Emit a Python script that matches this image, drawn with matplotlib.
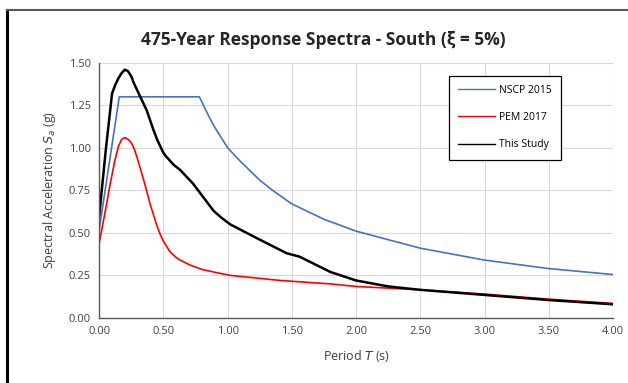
import matplotlib
matplotlib.use('Agg')
import matplotlib.pyplot as plt
from matplotlib.lines import Line2D

plt.rcParams['font.family'] = ['Open Sans', 'DejaVu Sans']
plt.rcParams['mathtext.fontset'] = 'dejavusans'

# NSCP 2015 design spectrum
t_nscp = [0.0, 0.156, 0.78, 0.85, 0.90, 0.95, 1.00, 1.10, 1.25, 1.35, 1.50, 1.75,
          2.00, 2.50, 3.00, 3.50, 4.00]
sa_nscp = [0.52, 1.30, 1.30, 1.19, 1.12, 1.06, 1.00, 0.92, 0.81, 0.75, 0.67, 0.58,
           0.51, 0.41, 0.34, 0.29, 0.255]

# PEM 2017
t_pem = [0.0, 0.05, 0.086, 0.12, 0.15, 0.175, 0.20, 0.225, 0.25, 0.275, 0.30, 0.35,
         0.40, 0.45, 0.475, 0.50, 0.55, 0.60, 0.63, 0.71, 0.80, 0.89, 1.02, 1.41,
         1.80, 2.00, 2.50, 3.00, 3.50, 4.00]
sa_pem = [0.44, 0.64, 0.79, 0.92, 1.01, 1.05, 1.06, 1.05, 1.03, 0.99, 0.93, 0.80,
          0.66, 0.54, 0.49, 0.45, 0.39, 0.355, 0.34, 0.31, 0.285, 0.27, 0.25, 0.22,
          0.20, 0.185, 0.165, 0.14, 0.11, 0.085]

# This study
t_study = [0.0, 0.05, 0.10, 0.125, 0.15, 0.175, 0.20, 0.225, 0.25, 0.27, 0.32, 0.37,
           0.42, 0.45, 0.475, 0.50, 0.52, 0.58, 0.63, 0.73, 0.80, 0.89, 0.95, 1.02,
           1.25, 1.46, 1.56, 1.80, 2.00, 2.25, 2.50, 3.00, 3.50, 4.00]
sa_study = [0.60, 0.98, 1.32, 1.37, 1.41, 1.44, 1.46, 1.45, 1.42, 1.38, 1.30, 1.22,
            1.11, 1.05, 1.01, 0.97, 0.95, 0.90, 0.87, 0.79, 0.72, 0.63, 0.59, 0.55,
            0.46, 0.38, 0.36, 0.27, 0.22, 0.185, 0.165, 0.135, 0.105, 0.08]

fig = plt.figure(figsize=(6.28, 3.83), dpi=100)
ax = fig.add_axes([0.158, 0.170, 0.818, 0.666])

ax.plot(t_nscp, sa_nscp, color='#4472C4', lw=1.2, label='NSCP 2015')
ax.plot(t_pem, sa_pem, color='#FF0000', lw=1.2, label='PEM 2017')
ax.plot(t_study, sa_study, color='black', lw=1.8, label='This Study')

ax.set_xlim(0, 4)
ax.set_ylim(0, 1.5)
ax.set_xticks([i * 0.5 for i in range(9)])
ax.set_yticks([i * 0.25 for i in range(7)])
ax.set_xticklabels([f'{i * 0.5:.2f}' for i in range(9)])
ax.set_yticklabels([f'{i * 0.25:.2f}' for i in range(7)])
ax.tick_params(length=0, labelsize=8, colors='#404040', pad=6)
ax.grid(True, color='#d9d9d9', lw=0.8)
ax.set_axisbelow(True)
for s in ['top', 'right']:
    ax.spines[s].set_visible(False)
for s in ['left', 'bottom']:
    ax.spines[s].set_color('#595959')
    ax.spines[s].set_linewidth(1.0)

ax.set_xlabel('Period $T$ (s)', fontsize=9, color='#404040', labelpad=8)
ax.set_ylabel('Spectral Acceleration $S_a$ (g)', fontsize=9, color='#404040', labelpad=8)

fig.text(0.515, 0.895, '475-Year Response Spectra - South (ξ = 5%)',
         ha='center', va='center', fontsize=12.5, fontweight='bold', color='#262626')

handles = [Line2D([], [], color='#4472C4', lw=1.0),
           Line2D([], [], color='#FF0000', lw=1.0),
           Line2D([], [], color='black', lw=1.0)]
leg = ax.legend(handles, ['NSCP 2015', 'PEM 2017', 'This Study'],
                loc='upper left', bbox_to_anchor=(0.680, 0.950), fontsize=7.5,
                frameon=True, fancybox=False, edgecolor='black', framealpha=1,
                handlelength=3.6, handletextpad=0.3, labelspacing=1.55,
                borderpad=0.9, borderaxespad=0)
leg.get_frame().set_linewidth(0.9)

# outer frame (left and top edges visible in the crop)
fig.add_artist(Line2D([0.011, 0.011], [0.0, 0.975], transform=fig.transFigure,
                      color='black', lw=2.2))
fig.add_artist(Line2D([0.011, 1.0], [0.975, 0.975], transform=fig.transFigure,
                      color='#595959', lw=1.5))

fig.savefig('out.png', dpi=100, facecolor='white')
